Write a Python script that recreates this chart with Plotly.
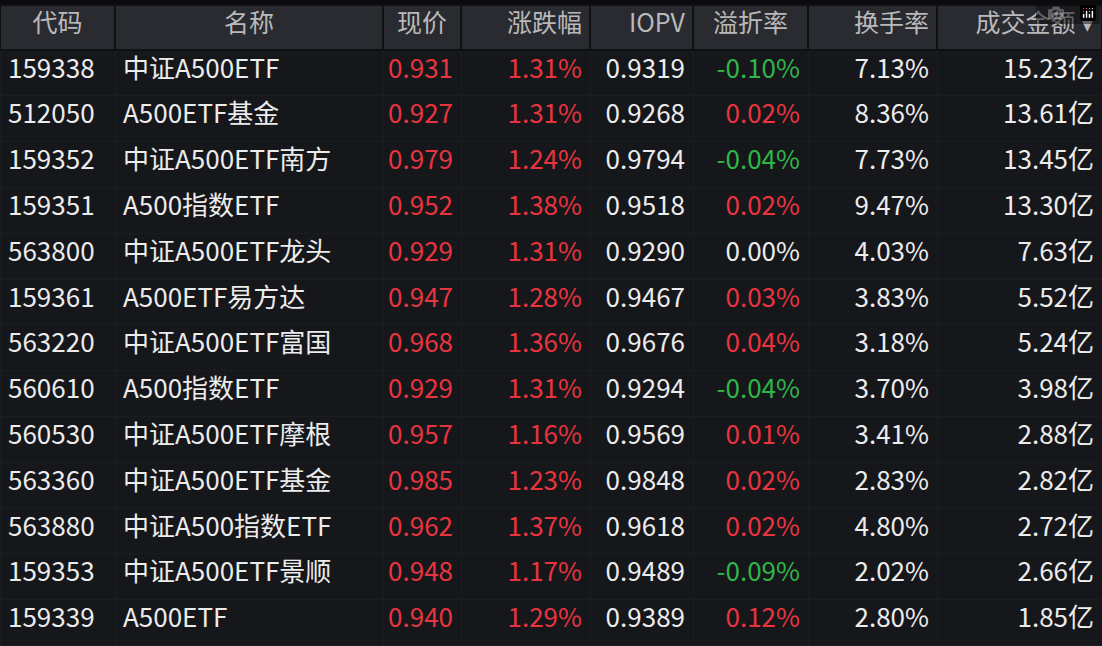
import plotly.graph_objects as go

headers = ["代码", "名称", "现价", "涨跌幅", "IOPV", "溢折率", "换手率", "成交金额 ▾"]
codes = ["159338","512050","159352","159351","563800","159361","563220","560610","560530","563360","563880","159353","159339"]
names = ["中证A500ETF","A500ETF基金","中证A500ETF南方","A500指数ETF","中证A500ETF龙头","A500ETF易方达","中证A500ETF富国","A500指数ETF","中证A500ETF摩根","中证A500ETF基金","中证A500指数ETF","中证A500ETF景顺","A500ETF"]
prices = [0.931,0.927,0.979,0.952,0.929,0.947,0.968,0.929,0.957,0.985,0.962,0.948,0.940]
changes = [1.31,1.31,1.24,1.38,1.31,1.28,1.36,1.31,1.16,1.23,1.37,1.17,1.29]
iopv = [0.9319,0.9268,0.9794,0.9518,0.9290,0.9467,0.9676,0.9294,0.9569,0.9848,0.9618,0.9489,0.9389]
premium = [-0.10,0.02,-0.04,0.02,0.00,0.03,0.04,-0.04,0.01,0.02,0.02,-0.09,0.12]
turnover = [7.13,8.36,7.73,9.47,4.03,3.83,3.18,3.70,3.41,2.83,4.80,2.02,2.80]
amount = [15.23,13.61,13.45,13.30,7.63,5.52,5.24,3.98,2.88,2.82,2.72,2.66,1.85]

RED, GREEN, WHITE = "#e8343f", "#2fb548", "#ececec"
n = len(codes)
def pc(v):
    return RED if v > 0 else GREEN if v < 0 else WHITE

cols = [
    codes,
    names,
    [f"{p:.3f}" for p in prices],
    [f"{c:.2f}%" for c in changes],
    [f"{v:.4f}" for v in iopv],
    [f"{v:.2f}%" for v in premium],
    [f"{v:.2f}%" for v in turnover],
    [f"{v:.2f}亿" for v in amount],
]
colors = [[WHITE]*n, [WHITE]*n, [RED]*n, [RED]*n, [WHITE]*n,
          [pc(v) for v in premium], [WHITE]*n, [WHITE]*n]

fig = go.Figure(go.Table(
    columnwidth=[115, 268, 78, 129, 103, 115, 129, 165],
    header=dict(values=headers, fill_color="#2a2b30", line_color="#101114", line_width=2,
                font=dict(family="Noto Sans CJK SC", size=25, color="#b9b9bb"),
                align=["center","center","center","right","right","center","right","right"],
                height=45),
    cells=dict(values=cols, fill_color="#16171b", line_color="#1c1d21", line_width=1,
               font=dict(family="Noto Sans CJK SC", size=26, color=colors),
               align=["left","left","right","right","right","right","right","right"],
               height=45.8),
))
fig.update_layout(width=1102, height=646, margin=dict(l=0, r=0, t=5, b=0),
                  paper_bgcolor="#0b0b0d", plot_bgcolor="#0b0b0d")
fig.write_html("out.html", post_script="document.body.style.margin='0';document.body.style.background='#0b0b0d';")
